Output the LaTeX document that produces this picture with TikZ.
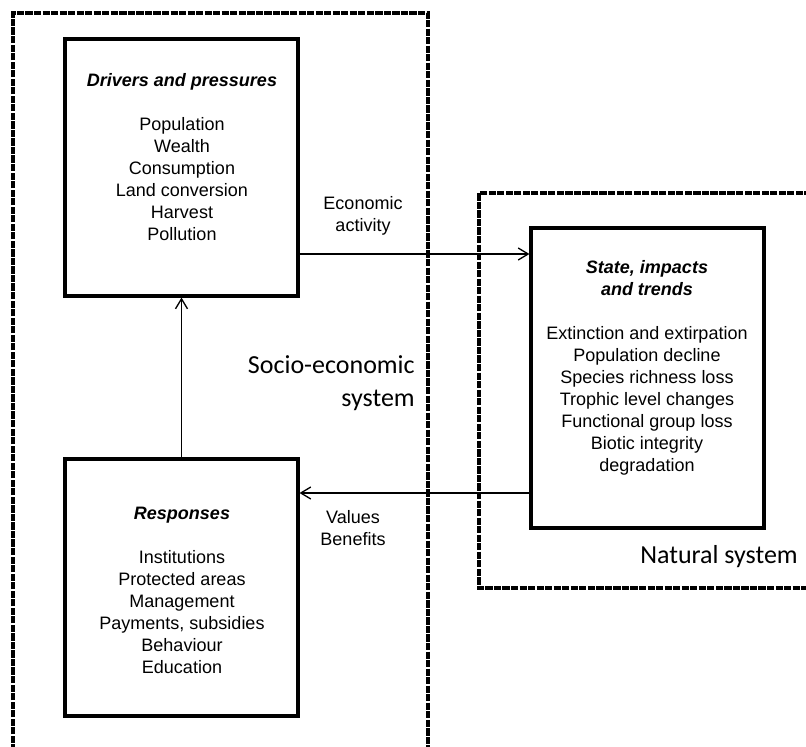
\documentclass[tikz,border=0pt]{standalone}
\usepackage{fontspec}
\setmainfont{Liberation Sans}
\newfontfamily\calib{Carlito}
\usetikzlibrary{arrows.meta}
\begin{document}
\begin{tikzpicture}[x=0.75pt,y=-0.75pt,
  boxnode/.style={draw, line width=2.3pt, minimum width=174.75pt, inner sep=0pt},
  txt/.style={align=center, inner sep=0pt, font=\fontsize{13.5pt}{16.5pt}\selectfont},
  bigtxt/.style={inner sep=0pt, font=\calib\fontsize{19.5pt}{24.75pt}\selectfont},
  sysline/.style={line width=2.4pt, dash pattern=on 5.4pt off 1pt},
  arr/.style={line width=1pt, -{Straight Barb[length=7.5pt,width=9pt,line width=1pt]}}]
\useasboundingbox (0,0) rectangle (806,746);
\clip (0,0) rectangle (806,746);
% system borders
\draw[sysline] (13,760) -- (13,13) -- (428,13) -- (428,760);
\draw[sysline] (820,193) -- (479,193) -- (479,588) -- (820,588);
% boxes
\node[boxnode, minimum height=192.75pt] (drivers) at (181.5,167.5) {};
\node[boxnode, minimum height=192.75pt] (responses) at (181.5,587.5) {};
\node[boxnode, minimum height=225pt] (state) at (647.5,378) {};
% box texts
\node[txt] (driverstxt) at (182,157.5) {\textbf{\textit{Drivers and pressures}}\\[16.5pt]
  Population\\ Wealth\\ Consumption\\ Land conversion\\ Harvest\\ Pollution};
\node[txt] (responsestxt) at (182,590) {\textbf{\textit{Responses}}\\[16.5pt]
  Institutions\\ Protected areas\\ Management\\ Payments, subsidies\\ Behaviour\\ Education};
\node[txt] (statetxt) at (647,368) {\textbf{\textit{State, impacts}}\\ \textbf{\textit{and trends}}\\[16.5pt]
  Extinction and extirpation\\ Population decline\\ Species richness loss\\ Trophic level changes\\ Functional group loss\\ Biotic integrity\\ degradation};
% system labels
\node[bigtxt, align=right, anchor=east] (socio) at (415,383.5) {Socio-economic\\ system};
\node[bigtxt, anchor=west] (natural) at (640,557) {Natural system};
% connectors
\coordinate (ea) at (0,254);
\coordinate (va) at (0,493);
\draw[arr] (drivers.east |- ea) -- (state.west |- ea);
\draw[arr] (state.west |- va) -- (responses.east |- va);
\draw[arr] (responses.north) -- (drivers.south);
% connector labels
\node[txt] (econ) at (363,216) {Economic\\ activity};
\node[txt] (values) at (353,528.5) {Values\\ Benefits};
\end{tikzpicture}
\end{document}
